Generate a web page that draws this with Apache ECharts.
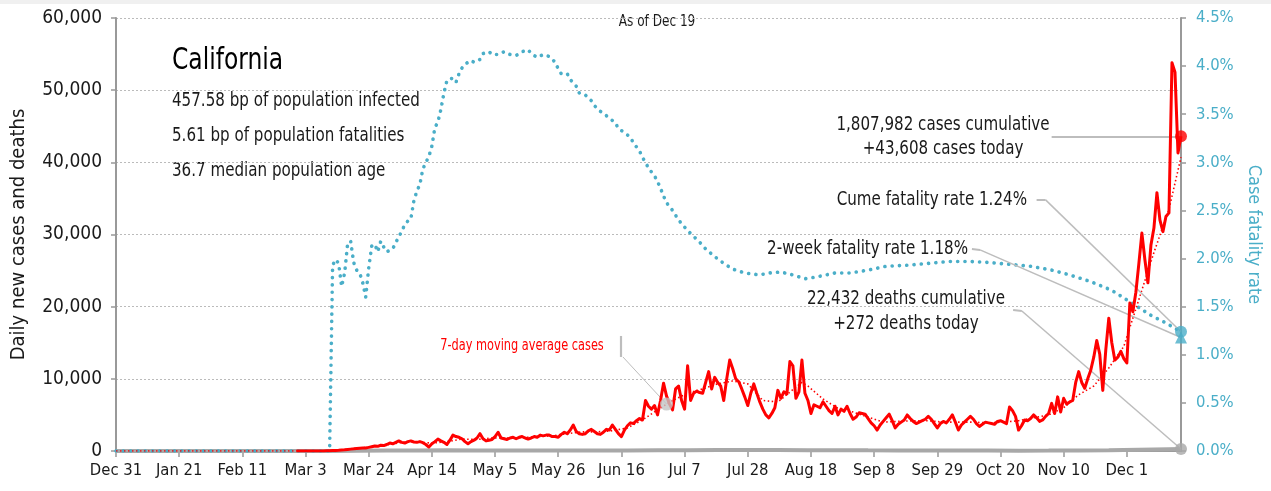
<!DOCTYPE html>
<html><head><meta charset="utf-8">
<script src="https://cdn.jsdelivr.net/npm/echarts@6/dist/echarts.min.js"></script>
<style>html,body{margin:0;padding:0;background:#fff}#c{width:1271px;height:491px}</style>
</head><body><div id="c"></div>
<script>
// ---- data (x = days since Dec 31, 2019) ----
const tickLabels = ['Dec 31','Jan 21','Feb 11','Mar 3','Mar 24','Apr 14','May 5','May 26','Jun 16','Jul 7','Jul 28','Aug 18','Sep 8','Sep 29','Oct 20','Nov 10','Dec 1'];
const casesStart = 60;
const dailyCases = [
0,0,0,0,0,0,0,0,0,0,
20,40,60,80,110,150,180,220,260,300,
350,380,400,420,500,600,700,650,800,750,
900,1100,1000,1200,1400,1200,1100,1300,1400,1250,
1200,1300,1150,900,550,1000,1300,1650,1400,1200,
900,1500,2200,2000,1900,1700,1300,1000,1300,1500,
1800,2400,1700,1400,1500,1600,2000,2600,1800,1700,
1600,1800,1900,1700,1900,2000,1800,1650,1800,2000,
1900,2200,2100,2200,2200,2000,2000,1900,2300,2600,
2400,2900,3600,2700,2400,2300,2400,2800,3000,2700,
2400,2300,2600,3000,2900,3600,3000,2400,2000,2900,
3500,3900,3800,4200,4500,4300,7000,6200,5800,6300,
5000,7000,9400,7600,6500,5700,8600,9000,7000,5800,
11800,7000,8000,8300,8100,8000,9500,11000,8600,10200,
9500,9000,7000,10000,12600,11400,10000,9600,8600,7500,
6300,8000,9300,8000,6800,5800,5000,4600,5200,6000,
8400,7300,8200,7900,12400,11800,7300,8200,12600,8000,
7000,5200,6400,6200,6000,6800,6200,5600,5200,6200,
5000,5800,5500,6200,5200,4400,4700,5300,5200,5100,
4500,3900,3500,2900,3600,4100,4600,5100,4200,3200,
3700,4000,4300,5000,4500,4100,3800,4000,4200,4400,
4800,4400,3800,3200,3800,4100,3900,4400,5000,4000,
2900,3600,4000,4400,4800,4400,3800,3400,3700,4000,
3900,3800,3700,4100,4200,4000,3800,6100,5600,4800,
2900,3500,4300,4200,4500,5000,4600,4100,4300,4800,
5200,6600,5200,7500,5400,7300,6500,6800,7000,9500,
11000,9500,8700,10000,11200,13000,15300,13400,8400,14000,
18400,15000,12600,13000,13800,12800,12200,20500,19300,22000,
26000,30200,26500,23300,28500,30900,35800,32000,30400,32500,
33000,53800,52500,41300,43608
];
const movingAvgCases = [[0,0],[68,0],[70,30],[75,150],[80,350],[85,600],[90,850],[95,1200],[100,1250],[105,1100],[110,1300],[115,1650],[120,1600],[125,1800],[130,1800],[135,1850],[140,2000],[145,2100],[150,2400],[155,2650],[160,2650],[165,2800],[170,3200],[175,4300],[180,5700],[183,6500],[185,7000],[190,8000],[195,8600],[200,9300],[205,9700],[210,9300],[215,7000],[220,6800],[225,8500],[228,9500],[230,9000],[235,7200],[240,5900],[245,5400],[250,4700],[255,4000],[260,4100],[265,4200],[270,4200],[275,4000],[280,4000],[285,4000],[290,3900],[295,4000],[300,4200],[305,4600],[310,5000],[315,6000],[320,7800],[325,9000],[330,11500],[335,14500],[340,21000],[345,27500],[350,33500],[354,40700]];
const dailyDeaths = [[0,0],[72,0],[80,20],[90,60],[100,80],[110,90],[120,80],[130,80],[140,70],[150,60],[160,60],[170,70],[180,90],[190,110],[200,130],[210,140],[220,140],[230,120],[240,110],[250,90],[260,80],[270,70],[280,60],[290,55],[300,50],[310,60],[320,80],[330,110],[340,180],[350,250],[354,272]];
const cumeFatalityRate = [[0,0],[71,0],[72,1.93],[73,1.99],[74,1.95],[75,1.71],[76,1.85],[77,2.16],[78,2.18],[79,1.96],[80,1.88],[81,1.85],[82,1.75],[83,1.60],[84,1.90],[85,2.13],[86,2.15],[87,2.07],[88,2.18],[89,2.12],[90,2.07],[92,2.10],[93,2.17],[94,2.22],[95,2.29],[96,2.35],[97,2.39],[98,2.41],[99,2.60],[100,2.70],[101,2.77],[102,2.93],[103,3.0],[104,3.06],[105,3.17],[106,3.36],[107,3.42],[108,3.55],[109,3.72],[110,3.85],[111,3.87],[112,3.87],[113,3.83],[114,3.92],[115,3.98],[116,4.02],[118,4.06],[119,4.04],[121,4.07],[122,4.13],[124,4.15],[125,4.12],[127,4.12],[129,4.15],[131,4.12],[133,4.11],[135,4.15],[137,4.17],[138,4.13],[140,4.09],[142,4.12],[144,4.10],[146,4.04],[147,3.97],[148,3.92],[150,3.92],[151,3.86],[153,3.79],[154,3.72],[156,3.70],[158,3.64],[159,3.59],[161,3.53],[162,3.51],[164,3.46],[166,3.41],[167,3.35],[169,3.31],[171,3.26],[172,3.20],[174,3.12],[175,3.05],[176,3.0],[177,2.94],[179,2.86],[180,2.80],[181,2.73],[182,2.65],[183,2.58],[184,2.54],[185,2.50],[186,2.45],[188,2.36],[191,2.26],[194,2.17],[196,2.10],[199,2.02],[202,1.95],[205,1.89],[209,1.85],[214,1.83],[217,1.85],[221,1.86],[225,1.83],[229,1.79],[233,1.81],[239,1.85],[244,1.85],[250,1.88],[256,1.92],[263,1.93],[270,1.95],[277,1.97],[283,1.97],[290,1.96],[297,1.94],[304,1.92],[311,1.88],[317,1.83],[324,1.76],[331,1.67],[337,1.55],[344,1.41],[349,1.33],[354,1.24]];
const lastDay = 354;
const lastCases = 43608, lastDeaths = 272, cumeRateNow = 1.24, twoWeekRateNow = 1.18;
const maMarker = [183, 6500];

// ---- chart ----
const F = "'DejaVu Sans Condensed','Liberation Sans Narrow','Arial Narrow',sans-serif";
const RED = '#ff0000', BLUE = '#4aaec8', GRAY = '#a8a8a8', LEAD = '#bdbdbd', TXT = '#1a1a1a';
const SX = 0.84;
const casesData = dailyCases.map((v, k) => [casesStart + k, v]);
const lead = (a, b, w) => [{coord: a, lineStyle: {width: w || 1.5}}, {coord: b}];
const txt = (x, y, text, size, align, color) => ({
  type: 'text', x: x, y: y, scaleX: SX, silent: true,
  style: {text: text, font: size + 'px ' + F, fill: color || TXT, textAlign: align, textVerticalAlign: 'middle'}
});

const chart = echarts.init(document.getElementById('c'), null, {renderer: 'canvas'});
chart.setOption({
  animation: false,
  backgroundColor: '#fff',
  grid: {left: 116, right: 90, top: 18, bottom: 40, containLabel: false, outerBoundsMode: 'none'},
  xAxis: {
    type: 'value', min: 0, max: lastDay, interval: 21,
    axisLine: {show: true, lineStyle: {color: '#999', width: 2}},
    axisTick: {show: true, length: 6, lineStyle: {color: '#999', width: 1.5}},
    splitLine: {show: false},
    axisLabel: {fontFamily: F, fontSize: 16.5, color: TXT, margin: 11, showMaxLabel: false, hideOverlap: false,
      formatter: v => (v % 21 === 0 && tickLabels[v / 21]) ? tickLabels[v / 21] : ''}
  },
  yAxis: [{
    type: 'value', min: 0, max: 60000, interval: 10000,
    name: 'Daily new cases and deaths', nameLocation: 'middle', nameGap: 87,
    nameTextStyle: {fontFamily: F, fontSize: 20, color: TXT},
    axisLine: {show: true, lineStyle: {color: '#999', width: 2}},
    axisTick: {show: true, length: 5, lineStyle: {color: '#999', width: 1.5}},
    splitLine: {show: true, lineStyle: {color: '#bbb', type: [2, 2], width: 1}},
    axisLabel: {fontFamily: F, fontSize: 19, color: TXT, margin: 14,
      formatter: v => v.toLocaleString('en-US')}
  }, {
    type: 'value', min: 0, max: 4.5, interval: 0.5, position: 'right',
    name: 'Case fatality rate', nameLocation: 'middle', nameGap: 63, nameRotate: -90,
    nameTextStyle: {fontFamily: F, fontSize: 18, color: BLUE},
    axisLine: {show: true, lineStyle: {color: '#999', width: 2}},
    axisTick: {show: true, length: 5, lineStyle: {color: '#999', width: 1.5}},
    splitLine: {show: false},
    axisLabel: {fontFamily: F, fontSize: 16.5, color: BLUE, margin: 15,
      formatter: v => v.toFixed(1) + '%'}
  }],
  series: [
    {
      name: 'Cume fatality rate', type: 'line', yAxisIndex: 1, data: cumeFatalityRate,
      showSymbol: false, z: 3,
      lineStyle: {color: BLUE, width: 3.6, type: [0.1, 7.2], cap: 'round'},
      markLine: {silent: true, symbol: 'none', label: {show: false}, animation: false,
        lineStyle: {color: LEAD, type: 'solid', width: 1.5},
        data: [
          lead([306, 2.61], [309, 2.61], 2), lead([309, 2.61], [lastDay, cumeRateNow]),
          lead([284.5, 2.10], [287.2, 2.09], 2), lead([287.2, 2.09], [lastDay, twoWeekRateNow])
        ]}
    },
    {
      name: 'Daily deaths', type: 'line', data: dailyDeaths, showSymbol: false, z: 2,
      lineStyle: {color: GRAY, width: 4}
    },
    {
      name: '7-day moving average cases', type: 'line', data: movingAvgCases, showSymbol: false, z: 4,
      lineStyle: {color: RED, width: 1.6, type: [1.5, 2.5]}
    },
    {
      name: 'Daily new cases', type: 'line', data: casesData, showSymbol: false, z: 5,
      lineStyle: {color: RED, width: 3, join: 'round'},
      markLine: {silent: true, symbol: 'none', label: {show: false}, animation: false,
        lineStyle: {color: LEAD, type: 'solid', width: 1.5},
        data: [
          lead([311, lastCases], [lastDay, lastCases], 2),
          lead([298.2, 19540], [301.1, 19400], 2), lead([301.1, 19400], [lastDay, lastDeaths]),
          lead([167.9, 15940], [167.9, 13030], 2.2), lead([168.5, 13030], maMarker, 1)
        ]}
    },
    {
      type: 'scatter', yAxisIndex: 0, z: 8, symbolSize: 12,
      data: [
        {value: [lastDay, lastCases], itemStyle: {color: RED}},
        {value: [lastDay, lastDeaths], itemStyle: {color: GRAY}},
        {value: maMarker, symbolSize: 13, itemStyle: {color: '#c4c4c4'}}
      ]
    },
    {
      type: 'scatter', yAxisIndex: 1, z: 8, symbolSize: 12,
      data: [
        {value: [lastDay, cumeRateNow], itemStyle: {color: BLUE}},
        {value: [lastDay, twoWeekRateNow], symbol: 'triangle', itemStyle: {color: BLUE}}
      ]
    }
  ],
  graphic: [
    {type: 'rect', shape: {x: 0, y: 0, width: 1271, height: 4}, style: {fill: '#f0f0f0'}, silent: true},
    txt(657, 22, 'As of Dec 19', 16, 'center'),
    txt(172, 61, 'California', 31, 'left', '#000'),
    txt(172, 101, '457.58 bp of population infected', 20, 'left'),
    txt(172, 136, '5.61 bp of population fatalities', 20, 'left'),
    txt(172, 171, '36.7 median population age', 20, 'left'),
    txt(943, 125, '1,807,982 cases cumulative', 20, 'center'),
    txt(943, 149, '+43,608 cases today', 20, 'center'),
    txt(1027, 200, 'Cume fatality rate 1.24%', 20, 'right'),
    txt(968, 249, '2-week fatality rate 1.18%', 20, 'right'),
    txt(906, 299, '22,432 deaths cumulative', 20, 'center'),
    txt(906, 324, '+272 deaths today', 20, 'center'),
    txt(522, 346, '7-day moving average cases', 15, 'center', RED)
  ]
});
</script></body></html>
